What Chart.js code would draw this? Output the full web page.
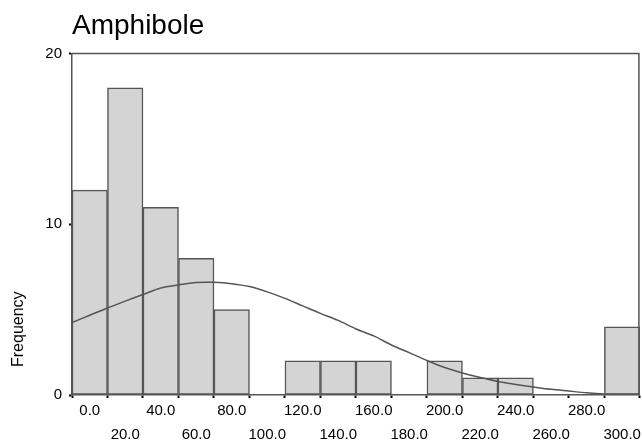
<!DOCTYPE html>
<html>
<head>
<meta charset="utf-8">
<script src="https://cdn.jsdelivr.net/npm/chart.js@4/dist/chart.umd.min.js"></script>
<style>
  body { margin: 0; background: #fff; }
  #wrap { width: 642px; height: 441px; }
</style>
</head>
<body>
<div id="wrap"><canvas id="histo" width="642" height="441"></canvas></div>
<script>
// bin centres (width 20) and counts
const binCenters = [0, 20, 40, 60, 80, 100, 120, 140, 160, 180, 200, 220, 240, 260, 280, 300];
const counts     = [12, 18, 11, 8, 5, 0, 2, 2, 2, 0, 2, 1, 1, 0, 0, 4];

// fitted normal curve, read along the axis every 10 units
const curveX = [-10, 0, 10, 20, 30, 40, 50, 60, 70, 80, 90, 100, 110, 120, 130, 140, 150,
                160, 170, 180, 190, 200, 210, 220, 230, 240, 250, 260, 270, 280, 290, 300, 310];
const curveY = [4.25, 4.67, 5.10, 5.50, 5.89, 6.27, 6.45, 6.59, 6.60, 6.52, 6.35, 6.04, 5.66,
                5.22, 4.78, 4.37, 3.87, 3.46, 2.93, 2.48, 2.02, 1.61, 1.29, 1.03, 0.79, 0.62,
                0.47, 0.33, 0.23, 0.13, 0.06, 0.03, 0.02];

const yTicks = [0, 10, 20];

const FONT = '"Liberation Sans", Arial, sans-serif';
const EDGE = '#555555';

// box around the plot area + rotated y title
const framePlugin = {
    id: 'frame',
    afterDraw(chart) {
        const { ctx, chartArea: a } = chart;
        ctx.save();
        ctx.strokeStyle = EDGE;
        ctx.lineWidth = 1.5;
        ctx.beginPath();
        ctx.moveTo(a.left, a.top);
        ctx.lineTo(a.right - 1, a.top);
        ctx.lineTo(a.right - 1, a.bottom);
        ctx.stroke();

        ctx.fillStyle = '#000';
        ctx.font = '16px ' + FONT;
        ctx.translate(19, 367);
        ctx.rotate(-Math.PI / 2);
        ctx.textAlign = 'left';
        ctx.textBaseline = 'middle';
        ctx.fillText('Frequency', 0, 0);
        ctx.restore();
    }
};

new Chart(document.getElementById('histo'), {
    type: 'bar',
    data: {
        datasets: [
            {
                type: 'line',
                label: 'Normal',
                data: curveX.map((x, i) => ({ x: x, y: curveY[i] })),
                borderColor: EDGE,
                borderWidth: 1.5,
                pointRadius: 0,
                tension: 0.3,
                fill: false,
                order: 0
            },
            {
                label: 'Amphibole',
                data: binCenters.map((x, i) => ({ x: x, y: counts[i] })),
                backgroundColor: '#d4d4d4',
                borderColor: EDGE,
                borderWidth: 1.5,
                borderSkipped: false,
                barPercentage: 1,
                categoryPercentage: 1,
                order: 1
            }
        ]
    },
    options: {
        responsive: false,
        animation: false,
        layout: { padding: { left: 0, right: 2, top: 0, bottom: 0 } },
        plugins: {
            legend: { display: false },
            tooltip: { enabled: false },
            title: {
                display: true,
                text: 'Amphibole',
                align: 'start',
                fullSize: false,
                color: '#000',
                font: { family: FONT, size: 28, weight: 'normal' },
                padding: { top: 9, bottom: 11 }
            }
        },
        scales: {
            x: {
                type: 'linear',
                min: -10,
                max: 310,
                offset: false,
                afterBuildTicks: (axis) => { axis.ticks = binCenters.map(v => ({ value: v })); },
                afterFit: (axis) => { axis.height = 46; },
                grid: { drawOnChartArea: false, drawTicks: true, tickLength: 3, tickColor: '#000', tickWidth: 2 },
                border: { display: true, color: EDGE, width: 1.5 },
                ticks: {
                    autoSkip: false,
                    maxRotation: 0,
                    padding: 1,
                    color: '#000',
                    font: { family: FONT, size: 15, lineHeight: '24px' },
                    callback: (v, i) => (i % 2 === 0 ? v.toFixed(1) : ['', v.toFixed(1)])
                }
            },
            y: {
                min: 0,
                max: 20,
                afterBuildTicks: (axis) => { axis.ticks = yTicks.map(v => ({ value: v })); },
                afterFit: (axis) => { axis.width = 72; },
                grid: { drawOnChartArea: false, drawTicks: true, tickLength: 3, tickColor: '#000', tickWidth: 2 },
                border: { display: true, color: EDGE, width: 1.5 },
                ticks: {
                    padding: 7,
                    color: '#000',
                    font: { family: FONT, size: 15 }
                }
            }
        }
    },
    plugins: [framePlugin]
});
</script>
</body>
</html>
